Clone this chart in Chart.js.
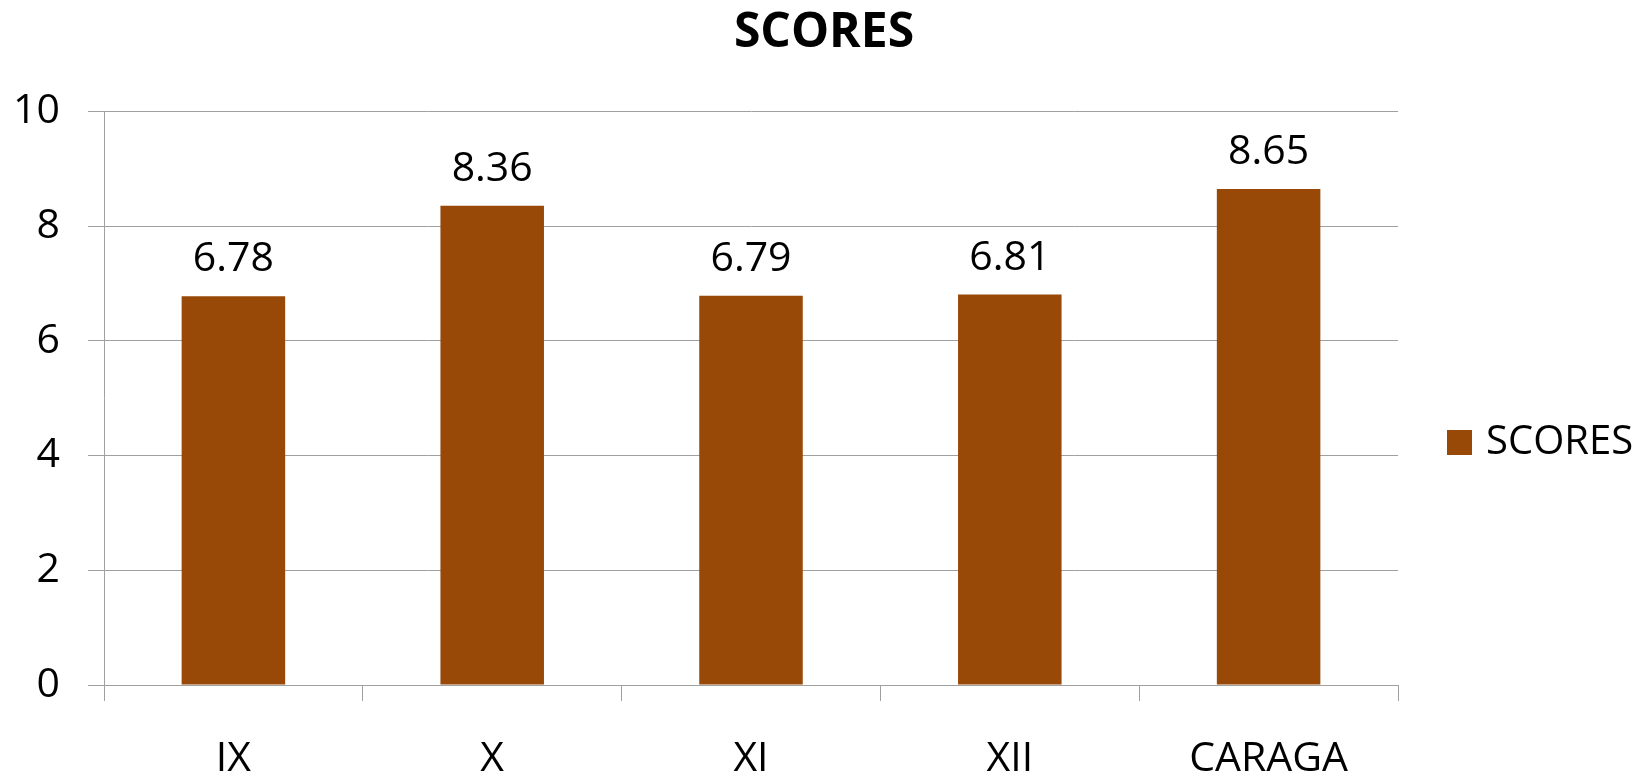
<!DOCTYPE html>
<html>
<head>
<meta charset="utf-8">
<script src="https://cdn.jsdelivr.net/npm/chart.js@4.4.0/dist/chart.umd.min.js"></script>
<style>
  html, body { margin: 0; padding: 0; background: #fff; }
  #wrap { width: 1648px; height: 780px; }
</style>
</head>
<body>
<div id="wrap"><canvas id="graficoScores"></canvas></div>
<script>
const regiones = ["IX", "X", "XI", "XII", "CARAGA"];
const puntajes = [6.78, 8.36, 6.79, 6.81, 8.65];
const ticksY = [0, 2, 4, 6, 8, 10];
const nombreSerie = "SCORES";

const fuente = "'Open Sans', 'DejaVu Sans', sans-serif";
const colorBarra = "#984807";
const colorLinea = "#a0a0a0";

// etiquetas de valor sobre cada barra + leyenda a la derecha
const etiquetasPlugin = {
  id: "etiquetas",
  afterDatasetsDraw(chart) {
    const ctx = chart.ctx;
    const meta = chart.getDatasetMeta(0);
    ctx.save();
    ctx.fillStyle = "#000";
    ctx.font = "41px " + fuente;
    ctx.textAlign = "center";
    ctx.textBaseline = "alphabetic";
    meta.data.forEach((bar, i) => {
      ctx.fillText(puntajes[i].toFixed(2), bar.x, bar.y - 25);
    });

    const ds = chart.data.datasets[0];
    const yMid = 443;
    ctx.fillStyle = ds.backgroundColor;
    ctx.fillRect(1447, yMid - 13, 25, 25);
    ctx.fillStyle = "#000";
    ctx.font = "40px " + fuente;
    ctx.textAlign = "left";
    ctx.textBaseline = "middle";
    ctx.fillText(ds.label, 1486, yMid);
    ctx.restore();
  },
};

const ctx = document.getElementById("graficoScores").getContext("2d");
new Chart(ctx, {
  type: "bar",
  data: {
    labels: regiones,
    datasets: [
      {
        label: nombreSerie,
        data: puntajes,
        backgroundColor: colorBarra,
        borderWidth: 0,
        barPercentage: 0.4,
        categoryPercentage: 1,
        yAxisID: "y",
      },
    ],
  },
  options: {
    responsive: true,
    maintainAspectRatio: false,
    animation: false,
    layout: { padding: 0 },
    plugins: {
      legend: { display: false },
      tooltip: { enabled: false },
      title: {
        display: true,
        text: "SCORES",
        color: "#000",
        font: { family: fuente, size: 48, weight: "bold" },
        padding: { top: 5, bottom: 49 },
      },
    },
    scales: {
      x: {
        grid: {
          drawOnChartArea: false,
          drawTicks: true,
          tickLength: 16,
          color: colorLinea,
          offset: true,
        },
        border: { color: colorLinea, width: 1 },
        ticks: {
          color: "#000",
          font: { family: fuente, size: 41 },
          padding: 34,
          maxRotation: 0,
        },
        afterFit(scale) {
          scale.height = 95;
        },
      },
      y: {
        min: 0,
        max: 10,
        afterBuildTicks(scale) {
          scale.ticks = ticksY.map((v) => ({ value: v }));
        },
        grid: {
          color: colorLinea,
          drawTicks: true,
          tickLength: 16,
        },
        border: { color: colorLinea, width: 1 },
        ticks: {
          color: "#000",
          font: { family: fuente, size: 41 },
          padding: 28,
        },
        afterFit(scale) {
          scale.width = 104;
        },
      },
      // eje vacio a la derecha que reserva el espacio de la leyenda
      espacio: {
        position: "right",
        grid: { display: false },
        border: { display: false },
        ticks: { display: false },
        afterFit(scale) {
          scale.width = 250;
        },
      },
    },
  },
  plugins: [etiquetasPlugin],
});
</script>
</body>
</html>
